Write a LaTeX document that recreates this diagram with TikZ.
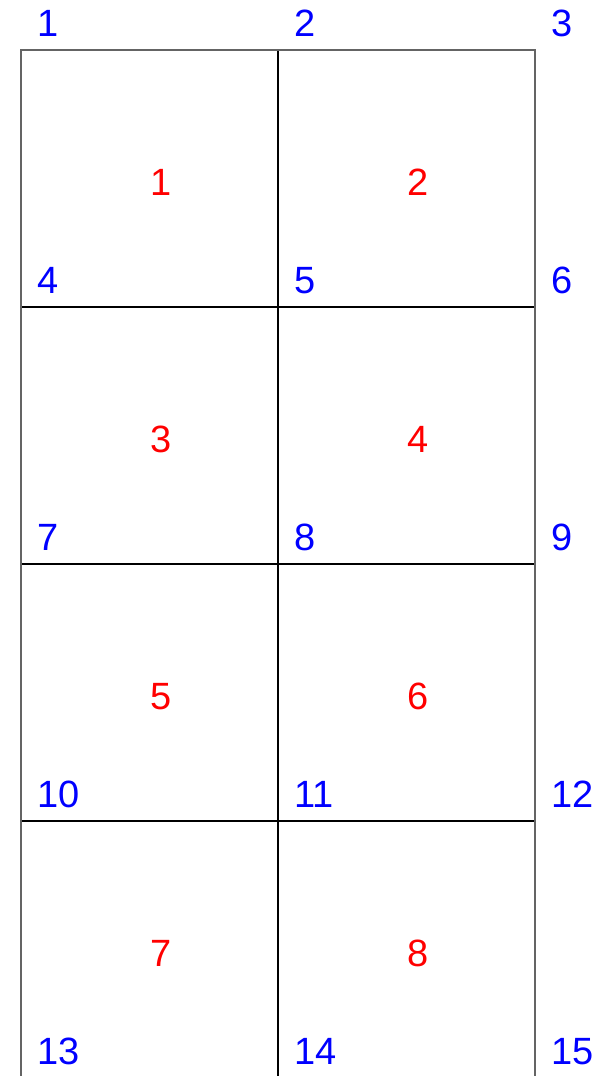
\documentclass[tikz,border=0pt]{standalone}
\usepackage{fontspec}
\setmainfont{Liberation Sans}
\usepackage{xcolor}
\usepackage{tikz}
\usetikzlibrary{calc}
\definecolor{bleu}{RGB}{0,0,255}
\definecolor{rouge}{RGB}{255,0,0}
\definecolor{grisf}{RGB}{100,100,100}

\begin{document}
\begin{tikzpicture}[x=1pt, y=1pt,
  nd/.style={anchor=base west, inner sep=0pt, text=bleu, font=\fontsize{38}{40}\selectfont},
  el/.style={inner sep=0pt, text=rouge, font=\fontsize{38}{40}\selectfont},
  bord/.style={draw=grisf, line width=2.2pt},
  inter/.style={draw=black, line width=1.3pt}]
\useasboundingbox (0,0) rectangle (602,1076);
% mesh nodes
\foreach \j/\y in {0/1026,1/769,2/512,3/255,4/-2}
  \foreach \i/\x in {1/21,2/278,3/535}
  { \pgfmathtruncatemacro{\k}{3*\j+\i}
    \coordinate (n\k) at (\x,\y); }
% interior edges
\draw[inter] (n4) -- (n6);
\draw[inter] (n7) -- (n9);
\draw[inter] (n10) -- (n12);
\draw[inter] (n2) -- (n14);
% boundary
\draw[bord] (n13) -- (n1) -- (n3) -- (n15);
% node numbers
\foreach \k in {1,...,15}
  \node[nd] (l\k) at ($(n\k)+(16,13)$) {\k};
% element numbers
\foreach \k/\a/\b in {1/1/5,2/2/6,3/4/8,4/5/9,5/7/11,6/8/12,7/10/14,8/11/15}
  \node[el] (e\k) at ($(n\a)!.5!(n\b)+(12,-4)$) {\k};
\end{tikzpicture}
\end{document}
